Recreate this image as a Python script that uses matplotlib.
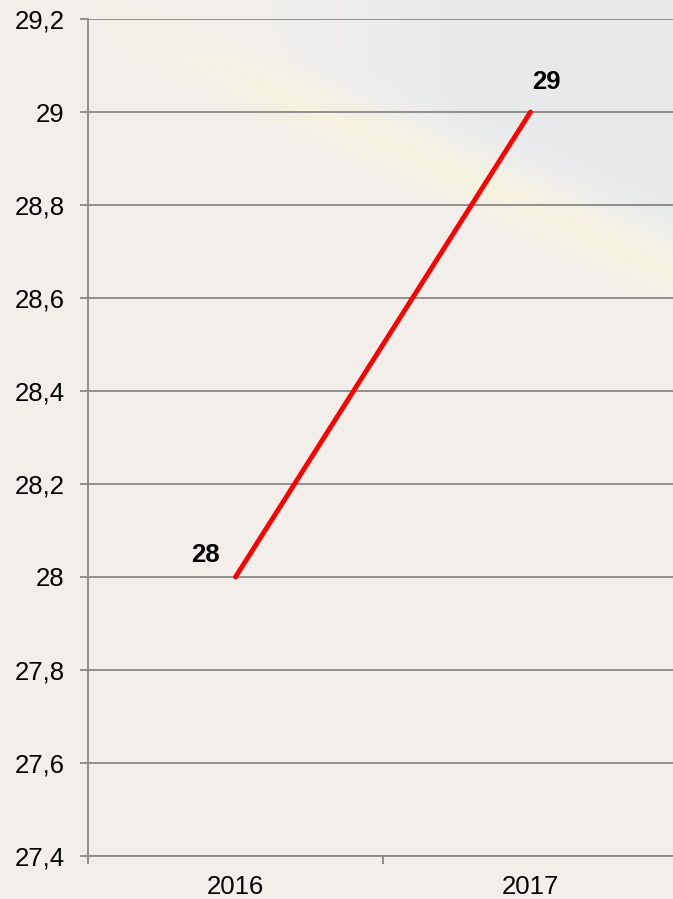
import numpy as np
import matplotlib
matplotlib.use("Agg")
from matplotlib import pyplot as plt

# Chart data
years = ["2016", "2017"]
values = [28, 29]
y_ticks = [27.4, 27.6, 27.8, 28.0, 28.2, 28.4, 28.6, 28.8, 29.0, 29.2]


def fmt_tick(v):
    # comma as decimal separator, drop trailing ,0
    s = f"{v:.1f}".rstrip("0").rstrip(".")
    return s.replace(".", ",")


def make_background(h=899, w=673):
    # soft beige backdrop with a pale blue/yellow swoosh near the top
    yy, xx = np.mgrid[0:h, 0:w].astype(float)
    base = np.array([242, 239, 235]) / 255
    img = np.ones((h, w, 3)) * base
    d = yy - (10 + 0.45 * (xx - 100))
    blue = np.array([228, 232, 236]) / 255
    yellow = np.array([250, 246, 215]) / 255
    wb = np.clip((-d - 15) / 50, 0, 1) * np.clip((xx - 250) / 200, 0, 1) * 0.75
    wy = np.clip(1 - np.abs(d - 5) / 40, 0, 1) * np.clip((xx - 80) / 200, 0, 1) * 0.55
    img = img * (1 - wb[..., None]) + blue * wb[..., None]
    img = img * (1 - wy[..., None]) + yellow * wy[..., None]
    return img


plt.rcParams['font.family'] = ['Liberation Sans', 'DejaVu Sans']

fig = plt.figure(figsize=(6.73, 8.99), dpi=100)
bg = fig.add_axes([0, 0, 1, 1])
bg.imshow(make_background(), aspect='auto')
bg.axis('off')

ax = fig.add_axes([88 / 673, 43 / 899, 590 / 673, 837 / 899])
ax.patch.set_alpha(0)

x = np.arange(len(years))
ax.plot(x, values, color='#ff0000', linewidth=3.5, solid_capstyle='round', zorder=3)

ax.set_xlim(-0.5, len(years) - 0.5)
ax.set_ylim(27.4, 29.2)
ax.set_yticks(y_ticks)
ax.set_yticklabels([fmt_tick(v) for v in y_ticks])
ax.yaxis.grid(True, color='#878787', linewidth=1.3)
ax.set_axisbelow(True)

# category axis: labels centred, ticks between categories
ax.set_xticks(x)
ax.set_xticklabels(years)
ax.set_xticks(np.arange(len(years) + 1) - 0.5, minor=True)
ax.tick_params(axis='x', which='major', length=0, pad=14, labelsize=18.5)
ax.tick_params(axis='x', which='minor', length=6, color='#878787', width=1.3)
ax.tick_params(axis='y', length=6, color='#878787', width=1.3, labelsize=18.5, pad=11)

for side in ['top', 'right']:
    ax.spines[side].set_visible(False)
for side in ['left', 'bottom']:
    ax.spines[side].set_color('#878787')
    ax.spines[side].set_linewidth(1.3)

# data labels
offsets = [(-30, 22), (16, 30)]
for xi, v, off in zip(x, values, offsets):
    ax.annotate(str(v), (xi, v), xytext=off, textcoords='offset pixels',
                ha='center', va='center', fontsize=18.5, fontweight='bold')

fig.savefig('out.png', dpi=100)
